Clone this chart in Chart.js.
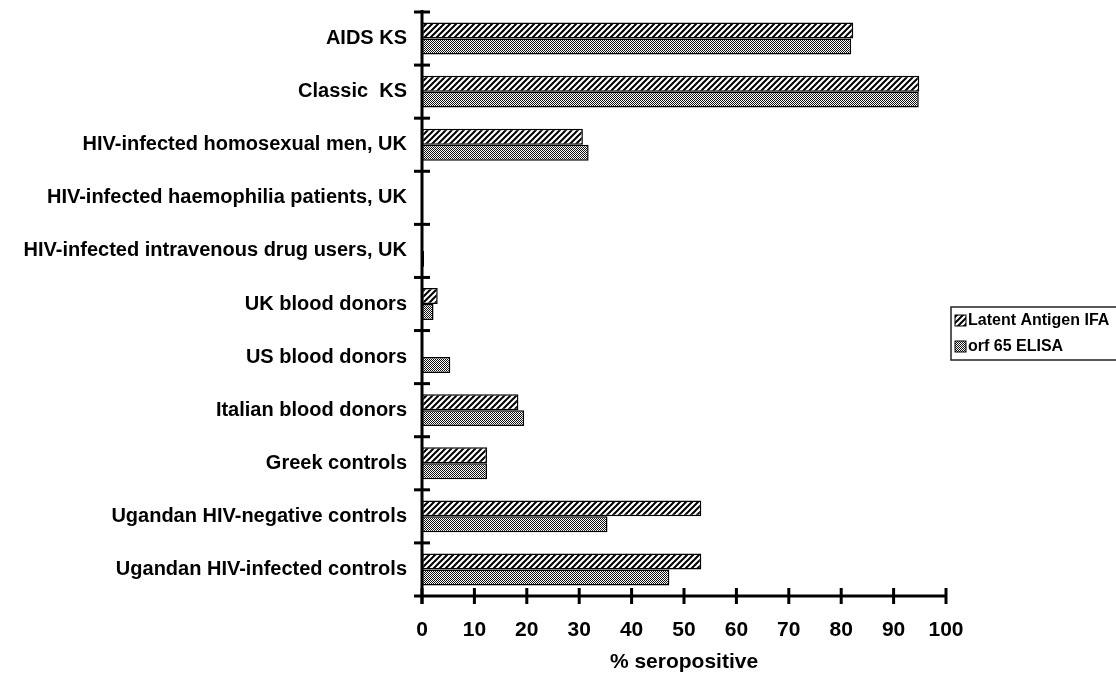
<!DOCTYPE html>
<html>
<head>
<meta charset="utf-8">
<style>
  html, body { margin: 0; padding: 0; background: #fff; }
  #wrap { width: 1116px; height: 673px; position: relative; }
</style>
<script src="https://cdn.jsdelivr.net/npm/chart.js@4/dist/chart.umd.min.js"></script>
</head>
<body>
<div id="wrap"><canvas id="c" width="1116" height="673"></canvas></div>
<script>
const categories = [
  "AIDS KS",
  "Classic  KS",
  "HIV-infected homosexual men, UK",
  "HIV-infected haemophilia patients, UK",
  "HIV-infected intravenous drug users, UK",
  "UK blood donors",
  "US blood donors",
  "Italian blood donors",
  "Greek controls",
  "Ugandan HIV-negative controls",
  "Ugandan HIV-infected controls"
];
const latentIFA = [82.3, 94.9, 30.7, 0, 0, 3.0, 0, 18.4, 12.4, 53.3, 53.3];
const orf65ELISA = [81.9, 94.8, 31.8, 0, 0.4, 2.2, 5.4, 19.5, 12.4, 35.4, 47.2];
const seriesNames = ["Latent Antigen IFA", "orf 65 ELISA"];
const xTicks = [0, 10, 20, 30, 40, 50, 60, 70, 80, 90, 100];

function makeHatch() {
  const c = document.createElement('canvas');
  c.width = 6; c.height = 6;
  const x = c.getContext('2d');
  x.fillStyle = '#fff'; x.fillRect(0, 0, 6, 6);
  x.strokeStyle = '#000'; x.lineWidth = 2;
  x.beginPath();
  x.moveTo(-1, 7); x.lineTo(7, -1);
  x.moveTo(-4, 4); x.lineTo(4, -4);
  x.moveTo(2, 10); x.lineTo(10, 2);
  x.stroke();
  return x.createPattern(c, 'repeat');
}
function makeDots() {
  const c = document.createElement('canvas');
  c.width = 2; c.height = 2;
  const x = c.getContext('2d');
  x.fillStyle = '#fff'; x.fillRect(0, 0, 2, 2);
  x.fillStyle = '#111';
  x.fillRect(0, 0, 1, 1); x.fillRect(1, 1, 1, 1);
  return x.createPattern(c, 'repeat');
}
const hatch = makeHatch();
const dots = makeDots();

const axesPlugin = {
  id: 'axesPlugin',
  afterDatasetsDraw(chart) {
    const ctx = chart.ctx;
    const xs = chart.scales.x;
    const ca = chart.chartArea;
    ctx.save();
    ctx.strokeStyle = '#000';
    ctx.lineWidth = 3;
    ctx.lineCap = 'butt';
    ctx.beginPath();
    ctx.moveTo(ca.left, ca.top - 2);
    ctx.lineTo(ca.left, ca.bottom + 8);
    ctx.stroke();
    const n = categories.length;
    const step = (ca.bottom - ca.top) / n;
    for (let i = 0; i < n; i++) {
      const y = ca.top + i * step;
      ctx.beginPath();
      ctx.moveTo(ca.left - 8, y);
      ctx.lineTo(ca.left + 8, y);
      ctx.stroke();
    }
    ctx.beginPath();
    ctx.moveTo(ca.left - 8, ca.bottom);
    ctx.lineTo(ca.right, ca.bottom);
    ctx.stroke();
    xTicks.forEach(v => {
      const x = xs.getPixelForValue(v);
      ctx.beginPath();
      ctx.moveTo(x, ca.bottom - 8);
      ctx.lineTo(x, ca.bottom + 8);
      ctx.stroke();
    });
    ctx.restore();
  },
  afterDraw(chart) {
    const ctx = chart.ctx;
    const ca = chart.chartArea;
    ctx.save();
    const lx = ca.right + 5, ly = 307, lw = 200, lh = 53;
    ctx.strokeStyle = '#222';
    ctx.lineWidth = 1.5;
    ctx.strokeRect(lx, ly, lw, lh);
    const fills = [hatch, dots];
    ctx.font = 'bold 16px "Liberation Sans", Arial, sans-serif';
    ctx.textBaseline = 'middle';
    seriesNames.forEach((name, i) => {
      const cy = ly + 14 + i * 26;
      ctx.fillStyle = fills[i];
      ctx.fillRect(lx + 4, cy - 6, 11, 11);
      ctx.strokeStyle = '#000';
      ctx.lineWidth = 1;
      ctx.strokeRect(lx + 4, cy - 6, 11, 11);
      ctx.fillStyle = '#000';
      ctx.fillText(name, lx + 17, cy);
    });
    ctx.restore();
  }
};

new Chart(document.getElementById('c'), {
  type: 'bar',
  data: {
    labels: categories,
    datasets: [
      { label: seriesNames[0], data: latentIFA, backgroundColor: hatch, borderColor: '#000', borderWidth: 1.5, borderSkipped: false },
      { label: seriesNames[1], data: orf65ELISA, backgroundColor: dots, borderColor: '#000', borderWidth: 1.5, borderSkipped: false }
    ]
  },
  options: {
    indexAxis: 'y',
    responsive: false,
    animation: false,
    devicePixelRatio: 1,
    layout: { padding: { top: 12, right: 170, bottom: 0, left: 0 } },
    datasets: { bar: { categoryPercentage: 0.6, barPercentage: 1.0 } },
    plugins: { legend: { display: false }, tooltip: { enabled: false } },
    scales: {
      x: {
        type: 'linear', min: 0, max: 100,
        afterBuildTicks(s) { s.ticks = xTicks.map(v => ({ value: v })); },
        afterFit(s) { s.height = 77; s.paddingLeft = 0; s.paddingRight = 0; },
        grid: { display: false, drawTicks: false },
        border: { display: false },
        ticks: { color: '#000', padding: 22, font: { family: '"Liberation Sans", Arial, sans-serif', size: 21, weight: 'bold' } },
        title: { display: true, text: '% seropositive', color: '#000', padding: 0, font: { family: '"Liberation Sans", Arial, sans-serif', size: 21, weight: 'bold', lineHeight: 1 } }
      },
      y: {
        type: 'category',
        afterFit(s) { s.width = 422; s.paddingTop = 0; s.paddingBottom = 0; },
        grid: { display: false, drawTicks: false },
        border: { display: false },
        ticks: { color: '#000', padding: 15, autoSkip: false, font: { family: '"Liberation Sans", Arial, sans-serif', size: 20, weight: 'bold' } }
      }
    }
  },
  plugins: [axesPlugin]
});
</script>
</body>
</html>
